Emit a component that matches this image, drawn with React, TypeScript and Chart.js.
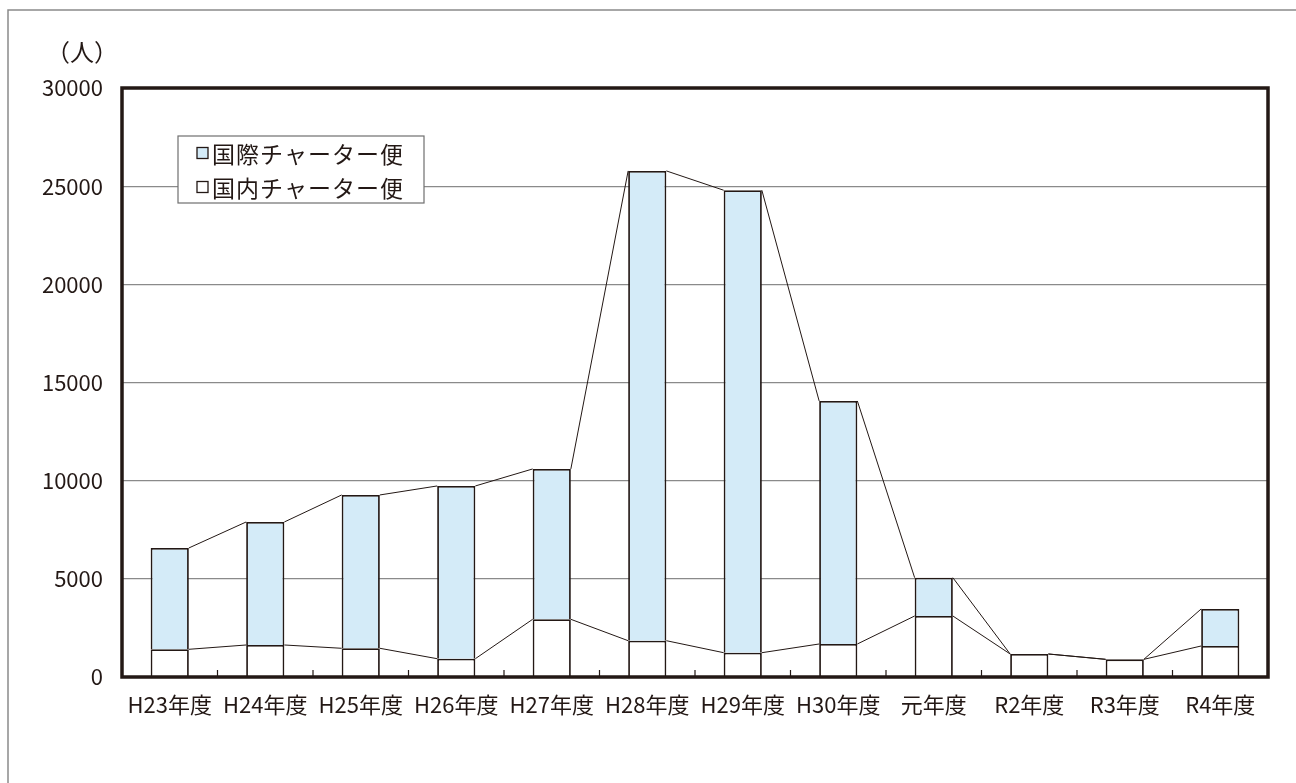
import React, { useEffect, useRef } from "react";
import { Chart, registerables } from "chart.js";

Chart.register(...registerables);

const categories = ["H23年度", "H24年度", "H25年度", "H26年度", "H27年度", "H28年度", "H29年度", "H30年度", "元年度", "R2年度", "R3年度", "R4年度"];
const domestic = [1411, 1630, 1462, 932, 2939, 1849, 1238, 1681, 3107, 1172, 900, 1579];
const international = [5161, 6266, 7810, 8798, 7657, 23928, 23555, 12379, 1952, 0, 0, 1885];
const yTickValues = [0, 5000, 10000, 15000, 20000, 25000, 30000];
const unitLabel = "（人）";
const intlLabel = "国際チャーター便";
const domLabel = "国内チャーター便";

const INK = "#231815";
const GRID = "#8a8a8a";
const BLUE = "#d4ebf8";
const FONT = "'Noto Sans CJK JP', sans-serif";
const JFONT = "'Noto Sans CJK JP', sans-serif";

const decorPlugin = {
  id: "decor",
  beforeDraw(chart: any) {
    const ctx = chart.ctx;
    ctx.save();
    ctx.fillStyle = "#ffffff";
    ctx.fillRect(0, 0, chart.width, chart.height);
    ctx.strokeStyle = GRID;
    ctx.lineWidth = 1.5;
    ctx.beginPath();
    ctx.moveTo(8, chart.height);
    ctx.lineTo(8, 10);
    ctx.lineTo(chart.width, 10);
    ctx.stroke();
    ctx.restore();
  },
  afterDatasetsDraw(chart: any) {
    const ctx = chart.ctx;
    const area = chart.chartArea;
    ctx.save();
    // series lines connecting bar tops
    ctx.strokeStyle = INK;
    ctx.lineWidth = 1;
    for (let d = 0; d < chart.data.datasets.length; d++) {
      const meta = chart.getDatasetMeta(d);
      const els = meta.data;
      ctx.beginPath();
      for (let j = 0; j < els.length - 1; j++) {
        const a = els[j];
        const b = els[j + 1];
        ctx.moveTo(a.x + a.width / 2, a.y);
        ctx.lineTo(b.x - b.width / 2, b.y);
      }
      ctx.stroke();
    }
    // inward x ticks between categories
    const xs = chart.scales.x;
    ctx.lineWidth = 1.2;
    ctx.beginPath();
    for (let j = 0; j < categories.length - 1; j++) {
      const x = (xs.getPixelForValue(j) + xs.getPixelForValue(j + 1)) / 2;
      ctx.moveTo(x, area.bottom);
      ctx.lineTo(x, area.bottom - 7);
    }
    ctx.stroke();
    // plot frame
    ctx.strokeStyle = INK;
    ctx.lineWidth = 3.5;
    ctx.strokeRect(area.left, area.top, area.right - area.left, area.bottom - area.top);
    // unit label
    ctx.fillStyle = INK;
    ctx.font = "24px " + JFONT;
    ctx.textAlign = "center";
    ctx.textBaseline = "middle";
    ctx.fillText(unitLabel, area.left - 40, 52);
    // legend
    const lx = area.left + 56;
    const ly = area.top + 48;
    const lw = 246;
    const lh = 67;
    ctx.fillStyle = "#ffffff";
    ctx.fillRect(lx, ly, lw, lh);
    ctx.strokeStyle = "#6f6f6f";
    ctx.lineWidth = 1.2;
    ctx.strokeRect(lx, ly, lw, lh);
    const rows = [
      { label: intlLabel, color: BLUE },
      { label: domLabel, color: "#ffffff" },
    ];
    ctx.font = "23px " + JFONT;
    ctx.textAlign = "left";
    (ctx as any).letterSpacing = "1px";
    rows.forEach((r, i) => {
      const cy = ly + 17 + i * 34;
      ctx.fillStyle = r.color;
      ctx.fillRect(lx + 19, cy - 5.5, 11, 11);
      ctx.strokeStyle = INK;
      ctx.lineWidth = 1.3;
      ctx.strokeRect(lx + 19, cy - 5.5, 11, 11);
      ctx.fillStyle = INK;
      ctx.fillText(r.label, lx + 34, cy + 1);
    });
    ctx.restore();
  },
};

export default function App() {
  const ref = useRef<HTMLCanvasElement | null>(null);
  useEffect(() => {
    if (!ref.current) return;
    const chart = new Chart(ref.current, {
      type: "bar",
      data: {
        labels: categories,
        datasets: [
          {
            label: domLabel,
            data: domestic,
            backgroundColor: "#ffffff",
            borderColor: INK,
            borderWidth: 1.8,
            barPercentage: 0.4,
            categoryPercentage: 1,
            stack: "s",
          },
          {
            label: intlLabel,
            data: international,
            backgroundColor: BLUE,
            borderColor: INK,
            borderWidth: 1.8,
            barPercentage: 0.4,
            categoryPercentage: 1,
            stack: "s",
          },
        ],
      },
      options: {
        responsive: false,
        animation: false,
        events: [],
        layout: { padding: { left: 0, top: 88, right: 28, bottom: 0 } },
        plugins: { legend: { display: false }, tooltip: { enabled: false } },
        scales: {
          x: {
            stacked: true,
            grid: { display: false, drawTicks: false },
            border: { display: false },
            ticks: { color: INK, font: { family: FONT, size: 22 }, padding: 14, maxRotation: 0, autoSkip: false },
            afterFit: (s: any) => { s.height = 106; },
          },
          y: {
            stacked: true,
            min: 0,
            max: 30000,
            afterBuildTicks: (s: any) => { s.ticks = yTickValues.map((v) => ({ value: v })); },
            grid: { color: GRID, lineWidth: 1.2, drawTicks: false },
            border: { display: false },
            ticks: { color: INK, font: { family: FONT, size: 22 }, padding: 19, callback: (v: any) => String(v) },
            afterFit: (s: any) => { s.width = 122; },
          },
        },
      },
      plugins: [decorPlugin],
    } as any);
    return () => chart.destroy();
  }, []);
  return (
    <div style={{ position: "absolute", left: 0, top: 0, width: 1296, height: 783 }}>
      <canvas ref={ref} width={1296} height={783} />
    </div>
  );
}
